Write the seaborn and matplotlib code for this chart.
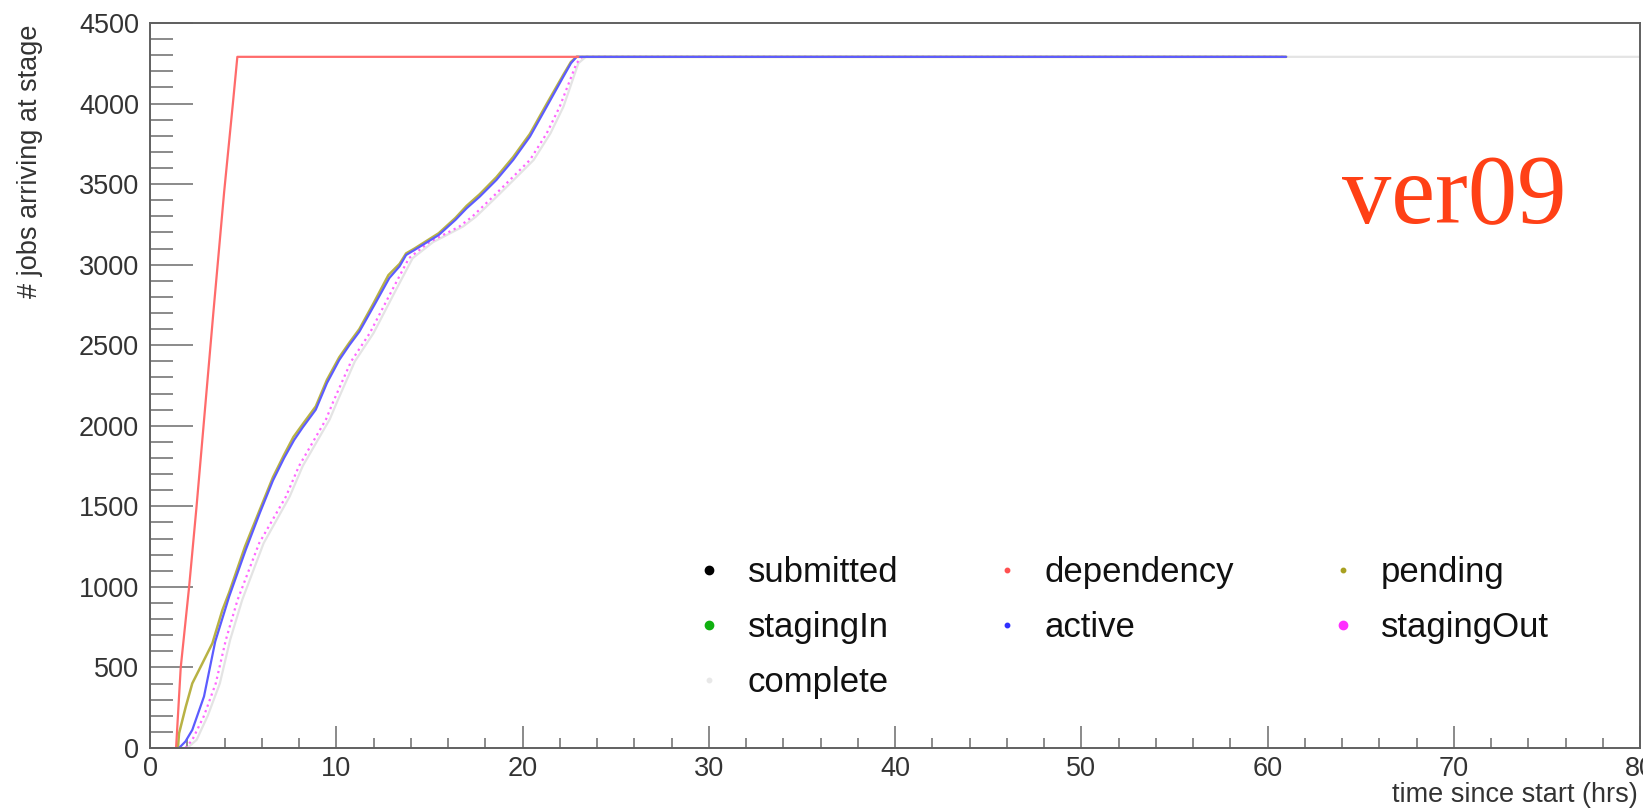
import numpy as np
import pandas as pd
import matplotlib
matplotlib.use("Agg")
import matplotlib.pyplot as plt
from matplotlib.lines import Line2D
from matplotlib.ticker import MultipleLocator
import seaborn as sns

# ---------------- data ----------------
dep_t = [1.4, 1.65, 2.1, 2.5, 2.95, 3.4, 3.98, 4.45, 4.69, 23.0]
dep_n = [0, 500, 1000, 1500, 2100, 2700, 3450, 4000, 4290, 4290]

act_t = [1.56, 1.9, 2.27, 2.9, 3.5, 4.25, 5.14, 5.9, 6.6, 7.2, 7.74, 8.2, 8.9, 9.5,
         10.16, 10.7, 11.24, 12.0, 12.85, 13.4, 13.75, 14.2, 15.5, 16.4, 17.0, 17.7,
         18.6, 19.5, 20.4, 21.3, 22.2, 22.6, 22.9, 61.0]
act_n = [0, 40, 112, 320, 660, 940, 1230, 1460, 1660, 1800, 1912, 1990, 2100, 2265,
         2408, 2500, 2584, 2740, 2917, 2990, 3060, 3091, 3184, 3278, 3350, 3422,
         3526, 3650, 3795, 3981, 4168, 4250, 4290, 4290]

pend_t = [1.5, 1.56, 1.92, 2.27, 2.81, 3.35, 3.89, 4.25, 5.1, 5.9, 6.6, 7.2, 7.7, 8.2,
          8.9, 9.5, 10.16, 10.7, 11.24, 12.0, 12.8, 13.4, 13.75, 14.2, 15.5, 16.4,
          17.0, 17.7, 18.6, 19.5, 20.4, 21.3, 22.2, 22.6, 22.9, 61.0]
pend_n = [0, 91, 256, 401, 525, 650, 857, 965, 1250, 1480, 1680, 1820, 1930, 2010,
          2120, 2285, 2425, 2515, 2600, 2760, 2935, 3005, 3070, 3100, 3195, 3290,
          3365, 3437, 3543, 3668, 3812, 3998, 4180, 4258, 4290, 4290]

sout_t = [1.9, 2.27, 2.9, 3.53, 4.07, 4.7, 5.86, 7.3, 8.0, 8.7, 9.45, 9.84, 10.8,
          11.8, 12.9, 13.9, 15.0, 16.6, 17.3, 18.4, 19.5, 20.4, 21.3, 22.0, 22.9,
          23.2, 61.0]
sout_n = [0, 50, 200, 401, 670, 919, 1271, 1561, 1750, 1890, 2040, 2150, 2400,
          2575, 2820, 3040, 3140, 3236, 3298, 3420, 3546, 3650, 3815, 3981, 4250,
          4290, 4290]

comp_t = [2.0, 2.5, 3.1, 3.75, 4.3, 4.95, 6.1, 7.5, 8.2, 8.9, 9.65, 10.05, 11.0,
          12.0, 13.1, 14.1, 15.2, 16.8, 17.5, 18.6, 19.7, 20.6, 21.5, 22.2, 23.0,
          23.4, 80.0]
comp_n = [0, 50, 200, 401, 670, 919, 1271, 1561, 1750, 1890, 2040, 2150, 2400,
          2575, 2820, 3040, 3140, 3236, 3298, 3420, 3546, 3650, 3815, 3981, 4250,
          4290, 4290]

legend_labels = ["submitted", "dependency", "pending",
                 "stagingIn", "active", "stagingOut", "complete"]

x_ticks = [0, 10, 20, 30, 40, 50, 60, 70, 80]
y_ticks = [0, 500, 1000, 1500, 2000, 2500, 3000, 3500, 4000, 4500]

# ---------------- styling ----------------
sns.set_style("ticks")
plt.rcParams["font.family"] = ["Liberation Sans", "DejaVu Sans"]

W, H = 1643, 811
fig = plt.figure(figsize=(W / 100, H / 100), dpi=100)
ax = fig.add_axes([150 / W, (H - 748) / H, (1640 - 150) / W, (748 - 23) / H])

series = [
    (comp_t, comp_n, "#e4e4e4", "-", 1.6),
    (sout_t, sout_n, "#ff66ff", ":", 1.6),
    (pend_t, pend_n, "#b8b244", "-", 1.8),
    (act_t, act_n, "#5c5cff", "-", 1.6),
    (dep_t, dep_n, "#ff6b6b", "-", 1.6),
]
for t, n, c, ls, lw in series:
    df = pd.DataFrame({"t": t, "n": n})
    sns.lineplot(data=df, x="t", y="n", ax=ax, color=c, linestyle=ls, lw=lw,
                 estimator=None, sort=False, legend=False)

ax.set_xlim(0, 80)
ax.set_ylim(0, 4500)
ax.set_xticks(x_ticks)
ax.set_yticks(y_ticks)
ax.xaxis.set_minor_locator(MultipleLocator(2))
ax.yaxis.set_minor_locator(MultipleLocator(100))
ax.set_xticklabels([str(v) for v in x_ticks])
ax.set_yticklabels([str(v) for v in y_ticks])
ax.set_xlabel("")
ax.set_ylabel("")

for s in ax.spines.values():
    s.set_color("#606060")
    s.set_linewidth(1.4)

ax.tick_params(axis="y", which="major", direction="in", length=31, width=1.4,
               color="#8a8a8a", labelsize=19.5, labelcolor="#333333", pad=8)
ax.tick_params(axis="y", which="minor", direction="in", length=16.5, width=1.4,
               color="#8a8a8a")
ax.tick_params(axis="x", which="major", direction="in", length=15.5, width=1.4,
               color="#8a8a8a", labelsize=19.5, labelcolor="#333333", pad=6)
ax.tick_params(axis="x", which="minor", direction="in", length=7.5, width=1.4,
               color="#8a8a8a")

fig.text(1638 / W, (H - 795) / H, "time since start (hrs)", ha="right", va="center",
         fontsize=19.5, color="#333333")
fig.text(30 / W, (H - 25) / H, "# jobs arriving at stage", rotation=90,
         ha="center", va="top", fontsize=19.5, color="#333333")

fig.text(1342 / W, (H - 223) / H, "ver09", fontsize=71, color="#ff4016",
         family="Liberation Serif", ha="left", va="baseline")

# legend (row-major look: matplotlib fills column-wise)
mk = {
    "submitted": ("#000000", 6.0),
    "dependency": ("#ff5050", 3.2),
    "pending": ("#a8a020", 3.2),
    "stagingIn": ("#10b010", 6.0),
    "active": ("#3030ff", 3.2),
    "stagingOut": ("#ff30ff", 6.0),
    "complete": ("#e8e8e8", 3.2),
}
order = ["submitted", "stagingIn", "complete", "dependency", "active",
         "pending", "stagingOut"]
handles = [Line2D([], [], marker="o", linestyle="none", color=mk[k][0],
                  markersize=mk[k][1]) for k in order]
ax.legend(handles, order, ncol=3, frameon=False, fontsize=25,
          loc="upper left", bbox_to_anchor=(692 / W, (H - 556) / H),
          bbox_transform=fig.transFigure, borderpad=0, borderaxespad=0,
          handlelength=1.0, handletextpad=0.6, columnspacing=2.62,
          labelspacing=0.64, labelcolor="#111111")

fig.savefig("out.png", dpi=100)
